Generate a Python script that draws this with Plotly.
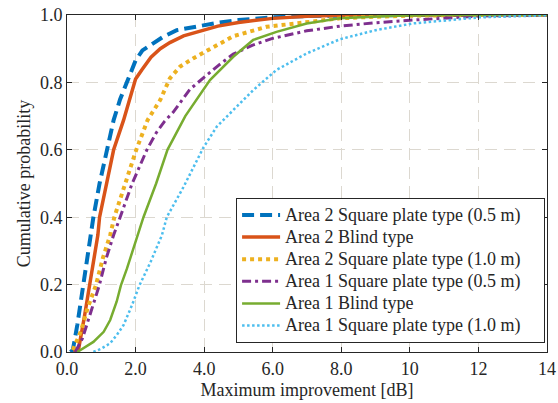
import plotly.graph_objects as go

# Area 2 Square plate type (0.5 m)
a2_sp05_x = [0.1, 0.17, 0.3, 0.48, 0.6, 0.71, 0.77, 0.95, 1.16, 1.36, 1.55, 1.75, 2.0, 2.2, 2.43, 2.8, 3.2, 3.6, 4.0, 4.4, 5.0, 6.0, 7.0, 8.0, 10, 14]
a2_sp05_y = [0, 0.006, 0.08, 0.2, 0.28, 0.347, 0.4, 0.5, 0.6, 0.688, 0.75, 0.8, 0.865, 0.895, 0.911, 0.935, 0.955, 0.963, 0.97, 0.977, 0.985, 0.993, 0.997, 0.999, 1.0, 1.0]

# Area 2 Blind type
a2_bl_x = [0.2, 0.34, 0.5, 0.66, 0.8, 0.9, 0.95, 1.15, 1.36, 1.65, 1.85, 2.0, 2.18, 2.45, 2.72, 3.0, 3.4, 4.0, 4.4, 5.0, 6.0, 7.0, 8.0, 10, 14]
a2_bl_y = [0, 0.01, 0.1, 0.197, 0.29, 0.347, 0.4, 0.5, 0.6, 0.688, 0.76, 0.81, 0.837, 0.875, 0.9, 0.918, 0.938, 0.955, 0.967, 0.978, 0.99, 0.996, 0.999, 1.0, 1.0]

# Area 2 Square plate type (1.0 m)
a2_sp10_x = [0.17, 0.4, 0.6, 0.84, 1.05, 1.26, 1.38, 1.7, 2.02, 2.35, 2.72, 3.0, 3.3, 3.69, 3.98, 4.37, 4.85, 5.82, 6.79, 7.96, 9.0, 10, 12, 14]
a2_sp10_y = [0.006, 0.06, 0.13, 0.197, 0.28, 0.347, 0.4, 0.5, 0.6, 0.688, 0.748, 0.812, 0.847, 0.872, 0.888, 0.911, 0.937, 0.965, 0.977, 0.99, 0.995, 0.998, 1.0, 1.0]

# Area 1 Square plate type (0.5 m)
a1_sp05_x = [0.24, 0.45, 0.7, 0.94, 1.15, 1.36, 1.55, 1.9, 2.33, 2.6, 2.85, 3.1, 3.59, 4.0, 4.41, 4.85, 5.4, 5.97, 6.99, 7.96, 9.0, 10.09, 12.03, 14]
a1_sp05_y = [0, 0.04, 0.12, 0.197, 0.28, 0.347, 0.4, 0.5, 0.6, 0.65, 0.685, 0.712, 0.78, 0.815, 0.85, 0.884, 0.91, 0.93, 0.953, 0.967, 0.977, 0.985, 0.997, 1.0]

# Area 1 Blind type
a1_bl_x = [0.3, 0.77, 1.07, 1.26, 1.45, 1.57, 1.75, 1.94, 2.08, 2.23, 2.6, 2.93, 3.45, 4.17, 4.85, 5.43, 6.11, 6.99, 7.96, 9.6, 11, 14]
a1_bl_y = [0, 0.03, 0.06, 0.095, 0.15, 0.197, 0.248, 0.308, 0.347, 0.4, 0.5, 0.6, 0.7, 0.807, 0.876, 0.926, 0.95, 0.975, 0.99, 0.998, 1.0, 1.0]

# Area 1 Square plate type (1.0 m)
a1_sp10_x = [0.77, 1.0, 1.26, 1.45, 1.65, 1.9, 2.11, 2.45, 2.77, 2.91, 3.4, 3.98, 4.37, 4.85, 5.43, 6.11, 6.99, 7.96, 9.0, 10.09, 12.03, 14]
a1_sp10_y = [0, 0.01, 0.026, 0.05, 0.08, 0.14, 0.197, 0.27, 0.347, 0.4, 0.49, 0.607, 0.669, 0.718, 0.777, 0.837, 0.886, 0.928, 0.955, 0.975, 0.993, 0.999]

x_tick_vals = [0, 2, 4, 6, 8, 10, 12, 14]
x_tick_text = ["0.0", "2.0", "4.0", "6.0", "8.0", "10", "12", "14"]
y_tick_vals = [0.0, 0.2, 0.4, 0.6, 0.8, 1.0]
y_tick_text = ["0.0", "0.2", "0.4", "0.6", "0.8", "1.0"]

series = [
    ("Area 2 Square plate type (0.5 m)", a2_sp05_x, a2_sp05_y, "#0072BD", 4, "12px,6px"),
    ("Area 2 Blind type", a2_bl_x, a2_bl_y, "#D95319", 3.5, "solid"),
    ("Area 2 Square plate type (1.0 m)", a2_sp10_x, a2_sp10_y, "#EDB120", 4, "4px,4px"),
    ("Area 1 Square plate type (0.5 m)", a1_sp05_x, a1_sp05_y, "#7E2F8E", 3, "9px,4px,3px,4px"),
    ("Area 1 Blind type", a1_bl_x, a1_bl_y, "#77AC30", 2.5, "solid"),
    ("Area 1 Square plate type (1.0 m)", a1_sp10_x, a1_sp10_y, "#4DBEEE", 2.5, "2.5px,2.5px"),
]

fig = go.Figure()
for name, xs, ys, col, w, dash in series:
    label = '<span style="font-size:18px">' + name + '\u00a0\u00a0\u00a0\u00a0</span>'
    fig.add_trace(go.Scatter(x=xs, y=ys, mode="lines", name=label,
                             line=dict(color=col, width=w, dash=dash)))

FF = "Liberation Serif, Times New Roman, serif"
title_font = dict(family=FF, size=18, color="#262626")
tick_font = dict(family=FF, size=18, color="#262626")
fig.update_layout(
    width=558, height=403,
    margin=dict(l=67, r=11, t=15, b=51),
    paper_bgcolor="white", plot_bgcolor="white",
    font=title_font,
    showlegend=True,
    legend=dict(x=0.996, y=0.027, xanchor="right", yanchor="bottom",
                bordercolor="#262626", borderwidth=1, bgcolor="white",
                font=dict(family=FF, size=14.7, color="#262626"),
                itemwidth=38, tracegroupgap=0),
)
axis_common = dict(showline=True, linecolor="#262626", linewidth=1, mirror="ticks",
                   ticks="inside", ticklen=5, tickcolor="#262626",
                   showgrid=True, gridcolor="#dcd8d0", griddash="12px,7px", gridwidth=1.2,
                   zeroline=False, tickfont=tick_font, automargin=False)
fig.update_xaxes(range=[0, 14], tickvals=x_tick_vals, ticktext=x_tick_text,
                 title=dict(text="Maximum improvement [dB]", standoff=5, font=title_font),
                 **axis_common)
fig.update_yaxes(range=[0, 1], tickvals=y_tick_vals, ticktext=y_tick_text,
                 title=dict(text="Cumulative probability", standoff=4, font=title_font),
                 **axis_common)

fig.write_html("out.html", config={"displayModeBar": False},
               post_script="document.body.style.margin='0';document.body.style.padding='0';")
